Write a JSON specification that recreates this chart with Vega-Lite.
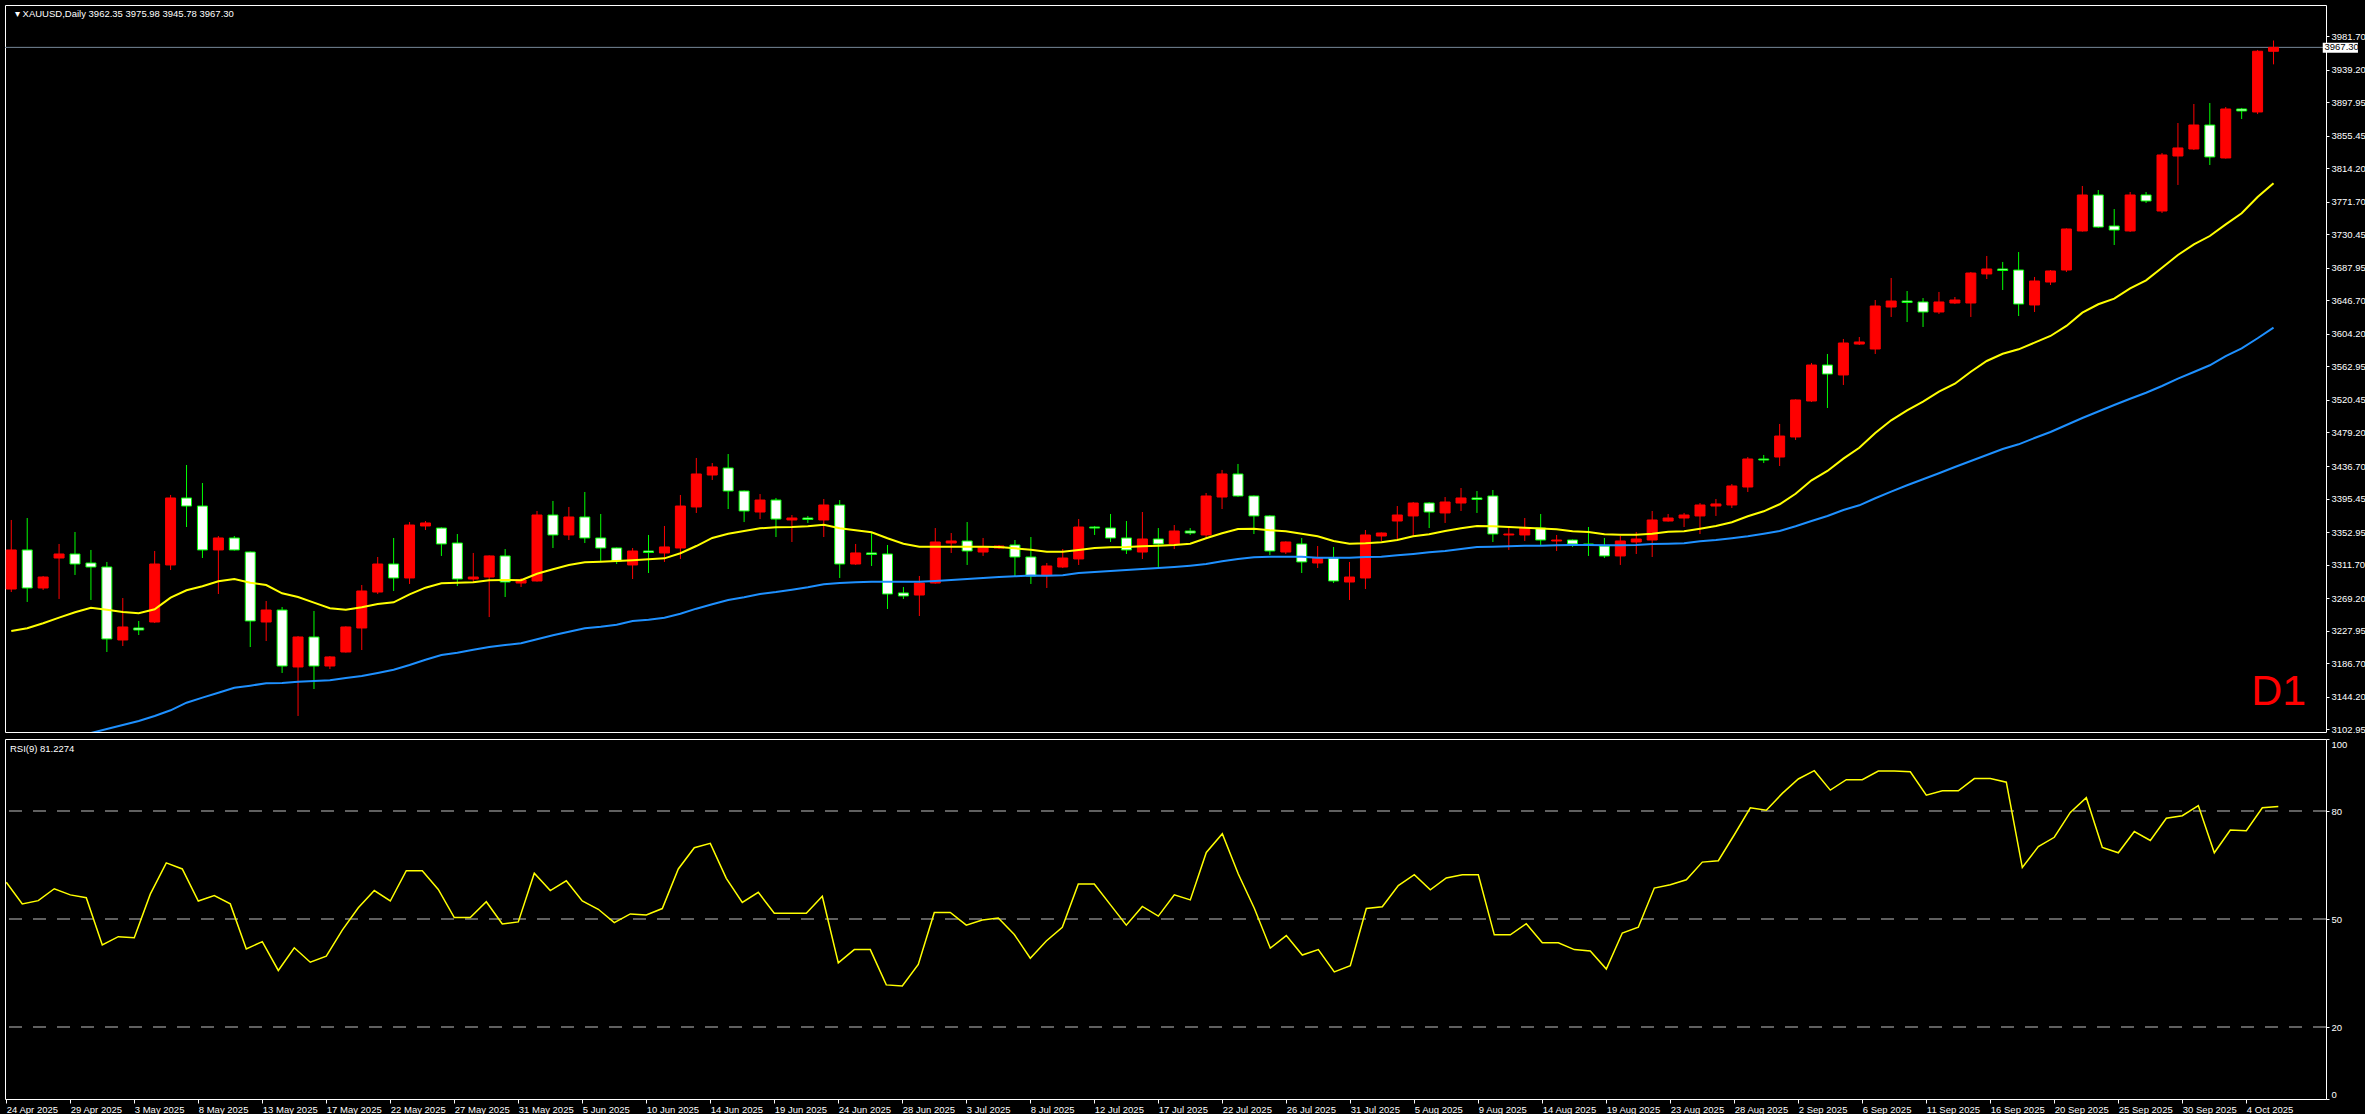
{
"$schema": "https://vega.github.io/schema/vega-lite/v6.json",
"background": "#000000",
"padding": {"left": 4, "top": 4, "right": 0, "bottom": 0},
"spacing": 3,
"config": {
  "view": {"stroke": "#ffffff", "strokeWidth": 1},
  "axis": {"labelColor": "#ffffff", "tickColor": "#ffffff", "domain": false, "grid": false, "labelFont": "Liberation Sans", "labelFontSize": 9.5, "tickSize": 3, "labelPadding": 2},
  "text": {"font": "Liberation Sans"}
},
"datasets": {
"levels": [{"v": 20}, {"v": 50}, {"v": 80}],
"bars": [
{"d":"2025-04-24","i":0,"o":3280.8,"h":3368.3,"l":3277.0,"c":3330.3,"m1":3227.6,"m2":3073.0,"r":60.2},
{"d":"2025-04-25","i":1,"o":3330.3,"h":3370.8,"l":3264.4,"c":3282.1,"m1":3231.0,"m2":3078.0,"r":54.2},
{"d":"2025-04-26","i":2,"o":3282.1,"h":3297.3,"l":3279.6,"c":3296.0,"m1":3237.4,"m2":3083.1,"r":55.1},
{"d":"2025-04-28","i":3,"o":3320.1,"h":3337.9,"l":3268.2,"c":3325.2,"m1":3244.5,"m2":3088.2,"r":58.4},
{"d":"2025-04-29","i":4,"o":3325.2,"h":3353.1,"l":3298.6,"c":3312.5,"m1":3251.3,"m2":3093.3,"r":56.7},
{"d":"2025-04-30","i":5,"o":3313.8,"h":3330.3,"l":3266.9,"c":3308.7,"m1":3257.1,"m2":3098.3,"r":55.9},
{"d":"2025-05-01","i":6,"o":3308.7,"h":3315.1,"l":3201.0,"c":3217.5,"m1":3254.6,"m2":3103.4,"r":42.8},
{"d":"2025-05-02","i":7,"o":3216.2,"h":3269.4,"l":3208.6,"c":3232.7,"m1":3251.7,"m2":3108.5,"r":45.1},
{"d":"2025-05-03","i":8,"o":3231.4,"h":3240.3,"l":3222.5,"c":3228.9,"m1":3250.0,"m2":3113.5,"r":44.8},
{"d":"2025-05-05","i":9,"o":3239.0,"h":3329.0,"l":3237.7,"c":3312.5,"m1":3255.1,"m2":3119.9,"r":56.9},
{"d":"2025-05-06","i":10,"o":3311.3,"h":3400.0,"l":3304.9,"c":3396.2,"m1":3269.8,"m2":3127.1,"r":65.6},
{"d":"2025-05-07","i":11,"o":3396.2,"h":3438.0,"l":3359.4,"c":3386.0,"m1":3279.2,"m2":3136.7,"r":63.9},
{"d":"2025-05-08","i":12,"o":3386.0,"h":3415.2,"l":3320.1,"c":3330.3,"m1":3284.3,"m2":3143.1,"r":55.0},
{"d":"2025-05-09","i":13,"o":3330.3,"h":3348.0,"l":3274.5,"c":3345.5,"m1":3290.6,"m2":3149.4,"r":56.5},
{"d":"2025-05-10","i":14,"o":3345.5,"h":3348.0,"l":3329.5,"c":3330.3,"m1":3293.5,"m2":3155.7,"r":54.2},
{"d":"2025-05-12","i":15,"o":3327.7,"h":3328.5,"l":3207.3,"c":3240.3,"m1":3288.8,"m2":3158.3,"r":41.7},
{"d":"2025-05-13","i":16,"o":3239.0,"h":3265.6,"l":3214.9,"c":3254.2,"m1":3285.9,"m2":3161.3,"r":43.7},
{"d":"2025-05-14","i":17,"o":3254.2,"h":3258.0,"l":3174.4,"c":3183.2,"m1":3275.4,"m2":3161.7,"r":35.7},
{"d":"2025-05-15","i":18,"o":3182.0,"h":3221.3,"l":3119.9,"c":3220.0,"m1":3270.7,"m2":3163.3,"r":42.0},
{"d":"2025-05-16","i":19,"o":3220.0,"h":3253.0,"l":3154.1,"c":3183.2,"m1":3263.5,"m2":3164.2,"r":38.0},
{"d":"2025-05-17","i":20,"o":3183.2,"h":3195.9,"l":3179.4,"c":3194.7,"m1":3256.4,"m2":3165.1,"r":39.7},
{"d":"2025-05-19","i":21,"o":3201.0,"h":3233.5,"l":3200.2,"c":3232.7,"m1":3254.6,"m2":3168.0,"r":46.9},
{"d":"2025-05-20","i":22,"o":3231.4,"h":3285.9,"l":3203.5,"c":3278.3,"m1":3257.6,"m2":3170.6,"r":53.1},
{"d":"2025-05-21","i":23,"o":3277.0,"h":3321.4,"l":3274.5,"c":3312.5,"m1":3261.8,"m2":3174.4,"r":57.9},
{"d":"2025-05-22","i":24,"o":3312.5,"h":3345.5,"l":3278.3,"c":3294.8,"m1":3264.0,"m2":3178.6,"r":55.0},
{"d":"2025-05-23","i":25,"o":3294.8,"h":3365.7,"l":3287.2,"c":3361.9,"m1":3274.1,"m2":3184.5,"r":63.4},
{"d":"2025-05-24","i":26,"o":3360.7,"h":3367.0,"l":3355.6,"c":3364.5,"m1":3282.5,"m2":3191.2,"r":63.4},
{"d":"2025-05-26","i":27,"o":3358.1,"h":3359.0,"l":3322.7,"c":3337.9,"m1":3288.1,"m2":3197.2,"r":58.2},
{"d":"2025-05-27","i":28,"o":3339.1,"h":3350.5,"l":3284.6,"c":3293.5,"m1":3288.8,"m2":3200.1,"r":50.4},
{"d":"2025-05-28","i":29,"o":3293.5,"h":3326.5,"l":3289.7,"c":3296.0,"m1":3289.3,"m2":3203.9,"r":50.4},
{"d":"2025-05-29","i":30,"o":3296.0,"h":3323.5,"l":3245.3,"c":3322.7,"m1":3291.9,"m2":3207.3,"r":54.8},
{"d":"2025-05-30","i":31,"o":3322.7,"h":3331.5,"l":3270.7,"c":3289.7,"m1":3292.2,"m2":3209.9,"r":48.6},
{"d":"2025-05-31","i":32,"o":3288.4,"h":3294.8,"l":3283.4,"c":3292.2,"m1":3292.0,"m2":3212.1,"r":49.2},
{"d":"2025-06-02","i":33,"o":3291.0,"h":3379.7,"l":3290.2,"c":3374.6,"m1":3300.2,"m2":3217.1,"r":62.7},
{"d":"2025-06-03","i":34,"o":3374.6,"h":3392.4,"l":3332.8,"c":3349.3,"m1":3305.8,"m2":3222.2,"r":57.9},
{"d":"2025-06-04","i":35,"o":3349.3,"h":3384.8,"l":3342.9,"c":3372.1,"m1":3311.3,"m2":3226.7,"r":60.6},
{"d":"2025-06-05","i":36,"o":3372.1,"h":3403.8,"l":3339.1,"c":3345.5,"m1":3314.7,"m2":3231.0,"r":55.0},
{"d":"2025-06-06","i":37,"o":3345.5,"h":3375.9,"l":3316.3,"c":3332.8,"m1":3315.4,"m2":3233.0,"r":52.7},
{"d":"2025-06-07","i":38,"o":3332.8,"h":3333.5,"l":3312.5,"c":3316.3,"m1":3316.3,"m2":3235.6,"r":49.0},
{"d":"2025-06-09","i":39,"o":3311.3,"h":3332.8,"l":3293.5,"c":3329.0,"m1":3317.2,"m2":3240.3,"r":51.4},
{"d":"2025-06-10","i":40,"o":3329.0,"h":3349.3,"l":3301.1,"c":3327.1,"m1":3318.5,"m2":3241.9,"r":51.1},
{"d":"2025-06-11","i":41,"o":3326.5,"h":3360.7,"l":3315.1,"c":3334.1,"m1":3319.7,"m2":3244.5,"r":52.9},
{"d":"2025-06-12","i":42,"o":3332.8,"h":3400.0,"l":3318.9,"c":3386.0,"m1":3326.1,"m2":3249.5,"r":63.9},
{"d":"2025-06-13","i":43,"o":3384.8,"h":3446.9,"l":3377.2,"c":3426.6,"m1":3335.3,"m2":3255.9,"r":69.8},
{"d":"2025-06-14","i":44,"o":3425.3,"h":3440.5,"l":3419.0,"c":3435.5,"m1":3345.5,"m2":3261.4,"r":71.0},
{"d":"2025-06-16","i":45,"o":3434.2,"h":3451.9,"l":3382.2,"c":3405.0,"m1":3350.9,"m2":3266.9,"r":61.3},
{"d":"2025-06-17","i":46,"o":3405.0,"h":3405.8,"l":3365.7,"c":3379.7,"m1":3354.3,"m2":3270.3,"r":54.6},
{"d":"2025-06-18","i":47,"o":3378.4,"h":3401.2,"l":3369.5,"c":3393.6,"m1":3357.8,"m2":3274.5,"r":57.4},
{"d":"2025-06-19","i":48,"o":3393.6,"h":3396.2,"l":3346.7,"c":3369.5,"m1":3359.0,"m2":3277.0,"r":51.6},
{"d":"2025-06-20","i":49,"o":3368.3,"h":3374.6,"l":3340.4,"c":3370.8,"m1":3359.4,"m2":3280.0,"r":51.6},
{"d":"2025-06-21","i":50,"o":3370.8,"h":3373.4,"l":3364.5,"c":3368.9,"m1":3360.3,"m2":3283.0,"r":51.6},
{"d":"2025-06-23","i":51,"o":3368.3,"h":3394.9,"l":3346.7,"c":3387.3,"m1":3362.3,"m2":3286.8,"r":56.3},
{"d":"2025-06-24","i":52,"o":3387.3,"h":3393.6,"l":3294.8,"c":3312.5,"m1":3357.8,"m2":3288.4,"r":37.8},
{"d":"2025-06-25","i":53,"o":3312.5,"h":3337.9,"l":3311.3,"c":3326.5,"m1":3355.2,"m2":3289.3,"r":41.5},
{"d":"2025-06-26","i":54,"o":3326.5,"h":3351.8,"l":3310.0,"c":3324.6,"m1":3352.7,"m2":3290.1,"r":41.5},
{"d":"2025-06-27","i":55,"o":3325.2,"h":3336.6,"l":3255.5,"c":3274.5,"m1":3345.1,"m2":3290.1,"r":31.7},
{"d":"2025-06-28","i":56,"o":3275.8,"h":3283.4,"l":3268.2,"c":3272.0,"m1":3338.2,"m2":3290.1,"r":31.4},
{"d":"2025-06-30","i":57,"o":3273.2,"h":3297.3,"l":3246.6,"c":3288.4,"m1":3334.4,"m2":3290.1,"r":37.4},
{"d":"2025-07-01","i":58,"o":3288.4,"h":3358.1,"l":3287.6,"c":3340.4,"m1":3334.4,"m2":3291.0,"r":51.8},
{"d":"2025-07-02","i":59,"o":3339.1,"h":3351.8,"l":3326.5,"c":3341.7,"m1":3334.4,"m2":3292.2,"r":51.8},
{"d":"2025-07-03","i":60,"o":3341.7,"h":3365.7,"l":3311.3,"c":3329.0,"m1":3334.4,"m2":3293.5,"r":48.3},
{"d":"2025-07-04","i":61,"o":3327.7,"h":3345.5,"l":3322.7,"c":3334.1,"m1":3334.4,"m2":3294.8,"r":49.7},
{"d":"2025-07-05","i":62,"o":3332.8,"h":3336.6,"l":3331.5,"c":3335.3,"m1":3334.1,"m2":3296.0,"r":50.3},
{"d":"2025-07-07","i":63,"o":3336.6,"h":3342.9,"l":3297.3,"c":3321.4,"m1":3332.4,"m2":3296.9,"r":45.7},
{"d":"2025-07-08","i":64,"o":3321.4,"h":3346.7,"l":3287.2,"c":3297.3,"m1":3330.5,"m2":3297.9,"r":39.1},
{"d":"2025-07-09","i":65,"o":3298.6,"h":3313.8,"l":3282.1,"c":3310.0,"m1":3328.1,"m2":3297.7,"r":43.9},
{"d":"2025-07-10","i":66,"o":3308.7,"h":3331.5,"l":3307.4,"c":3320.1,"m1":3328.1,"m2":3298.2,"r":47.7},
{"d":"2025-07-11","i":67,"o":3318.9,"h":3369.5,"l":3311.3,"c":3359.4,"m1":3330.3,"m2":3301.1,"r":59.7},
{"d":"2025-07-12","i":68,"o":3359.4,"h":3360.7,"l":3349.3,"c":3358.1,"m1":3332.8,"m2":3302.4,"r":59.7},
{"d":"2025-07-14","i":69,"o":3358.1,"h":3375.9,"l":3340.4,"c":3345.5,"m1":3333.7,"m2":3303.6,"r":54.0},
{"d":"2025-07-15","i":70,"o":3345.5,"h":3367.0,"l":3325.2,"c":3330.3,"m1":3334.1,"m2":3304.9,"r":48.3},
{"d":"2025-07-16","i":71,"o":3327.7,"h":3378.4,"l":3318.9,"c":3344.2,"m1":3335.0,"m2":3306.2,"r":53.5},
{"d":"2025-07-17","i":72,"o":3344.2,"h":3358.1,"l":3307.4,"c":3337.9,"m1":3335.7,"m2":3307.4,"r":50.8},
{"d":"2025-07-18","i":73,"o":3337.9,"h":3361.9,"l":3331.5,"c":3354.3,"m1":3336.6,"m2":3308.7,"r":56.7},
{"d":"2025-07-19","i":74,"o":3354.3,"h":3358.1,"l":3349.3,"c":3351.8,"m1":3338.2,"m2":3310.4,"r":55.3},
{"d":"2025-07-21","i":75,"o":3349.3,"h":3402.5,"l":3345.5,"c":3398.7,"m1":3345.1,"m2":3312.5,"r":68.5},
{"d":"2025-07-22","i":76,"o":3397.4,"h":3431.7,"l":3382.2,"c":3426.6,"m1":3351.4,"m2":3315.9,"r":73.7},
{"d":"2025-07-23","i":77,"o":3426.6,"h":3439.3,"l":3397.4,"c":3398.7,"m1":3356.9,"m2":3318.9,"r":62.5},
{"d":"2025-07-24","i":78,"o":3398.7,"h":3399.5,"l":3350.5,"c":3373.4,"m1":3357.3,"m2":3321.0,"r":53.0},
{"d":"2025-07-25","i":79,"o":3373.4,"h":3374.6,"l":3323.9,"c":3329.0,"m1":3355.2,"m2":3321.8,"r":41.9},
{"d":"2025-07-26","i":80,"o":3327.7,"h":3341.2,"l":3325.2,"c":3340.4,"m1":3354.0,"m2":3321.8,"r":45.4},
{"d":"2025-07-28","i":81,"o":3337.9,"h":3345.5,"l":3301.1,"c":3315.1,"m1":3350.9,"m2":3321.8,"r":40.0},
{"d":"2025-07-29","i":82,"o":3313.8,"h":3335.3,"l":3307.4,"c":3320.1,"m1":3347.6,"m2":3320.5,"r":41.5},
{"d":"2025-07-30","i":83,"o":3320.1,"h":3334.1,"l":3288.4,"c":3291.0,"m1":3341.7,"m2":3320.5,"r":35.3},
{"d":"2025-07-31","i":84,"o":3289.7,"h":3315.1,"l":3266.9,"c":3296.0,"m1":3338.2,"m2":3320.5,"r":37.0},
{"d":"2025-08-01","i":85,"o":3294.8,"h":3355.6,"l":3280.8,"c":3349.3,"m1":3338.8,"m2":3321.4,"r":52.9},
{"d":"2025-08-02","i":86,"o":3348.0,"h":3352.5,"l":3341.7,"c":3351.8,"m1":3340.0,"m2":3321.8,"r":53.4},
{"d":"2025-08-04","i":87,"o":3367.0,"h":3386.0,"l":3344.2,"c":3374.6,"m1":3342.9,"m2":3323.5,"r":59.3},
{"d":"2025-08-05","i":88,"o":3373.4,"h":3391.1,"l":3348.0,"c":3389.8,"m1":3347.6,"m2":3325.2,"r":62.3},
{"d":"2025-08-06","i":89,"o":3389.8,"h":3391.1,"l":3358.1,"c":3378.4,"m1":3350.2,"m2":3327.3,"r":58.1},
{"d":"2025-08-07","i":90,"o":3377.2,"h":3397.4,"l":3364.5,"c":3391.1,"m1":3354.3,"m2":3329.0,"r":61.4},
{"d":"2025-08-08","i":91,"o":3389.8,"h":3408.8,"l":3379.7,"c":3396.2,"m1":3357.8,"m2":3331.5,"r":62.3},
{"d":"2025-08-09","i":92,"o":3396.2,"h":3405.0,"l":3377.2,"c":3394.3,"m1":3360.7,"m2":3334.1,"r":62.3},
{"d":"2025-08-11","i":93,"o":3398.7,"h":3406.3,"l":3340.4,"c":3350.5,"m1":3360.3,"m2":3334.4,"r":45.6},
{"d":"2025-08-12","i":94,"o":3349.3,"h":3358.1,"l":3330.3,"c":3350.5,"m1":3359.4,"m2":3334.9,"r":45.6},
{"d":"2025-08-13","i":95,"o":3349.3,"h":3370.8,"l":3341.7,"c":3358.1,"m1":3358.5,"m2":3335.7,"r":48.7},
{"d":"2025-08-14","i":96,"o":3358.1,"h":3375.9,"l":3336.6,"c":3342.9,"m1":3357.5,"m2":3335.7,"r":43.4},
{"d":"2025-08-15","i":97,"o":3341.7,"h":3349.3,"l":3329.0,"c":3342.9,"m1":3356.5,"m2":3336.2,"r":43.4},
{"d":"2025-08-16","i":98,"o":3342.9,"h":3343.6,"l":3334.1,"c":3337.9,"m1":3354.0,"m2":3336.6,"r":41.5},
{"d":"2025-08-18","i":99,"o":3337.9,"h":3359.4,"l":3322.7,"c":3336.6,"m1":3353.1,"m2":3336.6,"r":41.1},
{"d":"2025-08-19","i":100,"o":3335.3,"h":3345.5,"l":3320.1,"c":3322.7,"m1":3350.2,"m2":3336.2,"r":36.1},
{"d":"2025-08-20","i":101,"o":3322.7,"h":3348.0,"l":3311.3,"c":3341.7,"m1":3349.6,"m2":3336.2,"r":46.1},
{"d":"2025-08-21","i":102,"o":3340.4,"h":3353.1,"l":3325.2,"c":3344.2,"m1":3349.6,"m2":3336.6,"r":47.7},
{"d":"2025-08-22","i":103,"o":3342.9,"h":3379.7,"l":3321.4,"c":3368.3,"m1":3350.9,"m2":3337.9,"r":58.6},
{"d":"2025-08-23","i":104,"o":3367.0,"h":3375.9,"l":3366.2,"c":3370.8,"m1":3353.5,"m2":3338.2,"r":59.5},
{"d":"2025-08-25","i":105,"o":3370.8,"h":3377.2,"l":3359.4,"c":3374.6,"m1":3354.0,"m2":3338.8,"r":60.9},
{"d":"2025-08-26","i":106,"o":3373.4,"h":3389.8,"l":3350.5,"c":3387.3,"m1":3357.3,"m2":3341.3,"r":65.8},
{"d":"2025-08-27","i":107,"o":3386.0,"h":3394.9,"l":3373.4,"c":3388.6,"m1":3360.7,"m2":3342.9,"r":66.2},
{"d":"2025-08-28","i":108,"o":3387.3,"h":3413.9,"l":3383.5,"c":3411.4,"m1":3365.4,"m2":3345.1,"r":73.4},
{"d":"2025-08-29","i":109,"o":3410.1,"h":3448.1,"l":3403.8,"c":3445.6,"m1":3373.0,"m2":3347.6,"r":80.9},
{"d":"2025-08-30","i":110,"o":3445.6,"h":3450.7,"l":3440.5,"c":3444.3,"m1":3379.3,"m2":3350.9,"r":80.2},
{"d":"2025-09-01","i":111,"o":3448.1,"h":3490.0,"l":3436.7,"c":3474.7,"m1":3388.2,"m2":3354.3,"r":84.9},
{"d":"2025-09-02","i":112,"o":3473.5,"h":3521.2,"l":3469.7,"c":3520.4,"m1":3401.6,"m2":3360.3,"r":88.9},
{"d":"2025-09-03","i":113,"o":3519.1,"h":3567.3,"l":3517.8,"c":3564.7,"m1":3418.6,"m2":3367.0,"r":91.2},
{"d":"2025-09-04","i":114,"o":3564.7,"h":3578.7,"l":3510.2,"c":3553.3,"m1":3430.4,"m2":3373.4,"r":85.8},
{"d":"2025-09-05","i":115,"o":3552.1,"h":3597.7,"l":3539.4,"c":3592.6,"m1":3446.0,"m2":3381.0,"r":88.7},
{"d":"2025-09-06","i":116,"o":3591.3,"h":3600.2,"l":3590.1,"c":3593.9,"m1":3459.9,"m2":3386.9,"r":88.7},
{"d":"2025-09-08","i":117,"o":3585.0,"h":3647.1,"l":3578.7,"c":3639.5,"m1":3478.5,"m2":3395.8,"r":91.1},
{"d":"2025-09-09","i":118,"o":3638.2,"h":3675.0,"l":3625.6,"c":3645.8,"m1":3494.6,"m2":3404.2,"r":91.1},
{"d":"2025-09-10","i":119,"o":3645.8,"h":3658.5,"l":3619.2,"c":3643.9,"m1":3507.3,"m2":3412.3,"r":90.9},
{"d":"2025-09-11","i":120,"o":3644.6,"h":3649.6,"l":3612.9,"c":3631.9,"m1":3518.2,"m2":3419.9,"r":84.4},
{"d":"2025-09-12","i":121,"o":3631.9,"h":3657.3,"l":3629.4,"c":3644.6,"m1":3530.9,"m2":3427.5,"r":85.6},
{"d":"2025-09-13","i":122,"o":3643.3,"h":3650.9,"l":3642.0,"c":3647.1,"m1":3541.0,"m2":3435.5,"r":85.6},
{"d":"2025-09-15","i":123,"o":3643.3,"h":3682.6,"l":3625.6,"c":3681.3,"m1":3556.2,"m2":3443.1,"r":89.0},
{"d":"2025-09-16","i":124,"o":3680.1,"h":3702.9,"l":3673.7,"c":3686.4,"m1":3569.8,"m2":3450.7,"r":89.0},
{"d":"2025-09-17","i":125,"o":3686.4,"h":3695.3,"l":3659.8,"c":3684.5,"m1":3579.0,"m2":3458.3,"r":88.0},
{"d":"2025-09-18","i":126,"o":3685.1,"h":3707.9,"l":3626.8,"c":3642.0,"m1":3584.6,"m2":3464.2,"r":64.3},
{"d":"2025-09-19","i":127,"o":3640.8,"h":3676.3,"l":3631.9,"c":3671.2,"m1":3593.0,"m2":3472.2,"r":70.1},
{"d":"2025-09-20","i":128,"o":3669.9,"h":3685.1,"l":3666.1,"c":3683.9,"m1":3601.5,"m2":3479.8,"r":72.7},
{"d":"2025-09-22","i":129,"o":3685.1,"h":3737.9,"l":3682.6,"c":3737.1,"m1":3614.2,"m2":3488.7,"r":79.6},
{"d":"2025-09-23","i":130,"o":3734.6,"h":3791.6,"l":3733.8,"c":3780.2,"m1":3631.0,"m2":3497.6,"r":83.7},
{"d":"2025-09-24","i":131,"o":3780.2,"h":3786.5,"l":3738.4,"c":3739.6,"m1":3641.7,"m2":3505.8,"r":69.9},
{"d":"2025-09-25","i":132,"o":3740.9,"h":3762.4,"l":3716.8,"c":3735.8,"m1":3648.8,"m2":3514.0,"r":68.4},
{"d":"2025-09-26","i":133,"o":3734.6,"h":3784.0,"l":3733.3,"c":3780.2,"m1":3661.9,"m2":3522.0,"r":74.3},
{"d":"2025-09-27","i":134,"o":3780.2,"h":3784.0,"l":3770.1,"c":3772.6,"m1":3672.1,"m2":3529.6,"r":71.8},
{"d":"2025-09-29","i":135,"o":3759.9,"h":3833.4,"l":3757.4,"c":3830.9,"m1":3688.0,"m2":3538.1,"r":78.0},
{"d":"2025-09-30","i":136,"o":3829.6,"h":3871.4,"l":3792.9,"c":3839.8,"m1":3704.1,"m2":3547.4,"r":78.7},
{"d":"2025-10-01","i":137,"o":3838.5,"h":3895.5,"l":3837.2,"c":3868.9,"m1":3717.7,"m2":3555.9,"r":81.5},
{"d":"2025-10-02","i":138,"o":3868.9,"h":3896.8,"l":3818.2,"c":3828.4,"m1":3728.2,"m2":3564.4,"r":68.4},
{"d":"2025-10-03","i":139,"o":3827.1,"h":3891.7,"l":3826.3,"c":3889.2,"m1":3743.0,"m2":3576.1,"r":74.7},
{"d":"2025-10-04","i":140,"o":3889.2,"h":3890.5,"l":3876.5,"c":3886.7,"m1":3757.0,"m2":3585.9,"r":74.5},
{"d":"2025-10-06","i":141,"o":3885.4,"h":3964.0,"l":3882.8,"c":3962.4,"m1":3777.7,"m2":3598.6,"r":80.9},
{"d":"2025-10-07","i":142,"o":3962.35,"h":3975.98,"l":3945.78,"c":3967.30,"m1":3795.0,"m2":3612.0,"r":81.2274}
]
},
"vconcat": [
{
  "width": 2321,
  "height": 727,
  "layer": [
    {
      "data": {"values": [{"bid": 3967.30}]},
      "mark": {"type": "rule", "color": "#778899", "strokeWidth": 1},
      "encoding": {"y": {"field": "bid", "type": "quantitative", "scale": {"domain": [3099.59, 4020.99], "nice": false, "zero": false},
        "axis": {"orient": "right", "title": null, "format": ".2f", "values": [3102.95, 3144.2, 3186.7, 3227.95, 3269.2, 3311.7, 3352.95, 3395.45, 3436.7, 3479.2, 3520.45, 3562.95, 3604.2, 3646.7, 3687.95, 3730.45, 3771.7, 3814.2, 3855.45, 3897.95, 3939.2, 3981.7]}}}
    },
    {
      "data": {"name": "bars"},
      "mark": {"type": "rule", "strokeWidth": 1, "clip": true},
      "encoding": {
        "x": {"field": "i", "type": "quantitative", "scale": {"domain": [-0.08, 144.98], "nice": false, "zero": false}, "axis": null},
        "y": {"field": "l", "type": "quantitative", "scale": {"domain": [3099.59, 4020.99], "nice": false, "zero": false},
              "axis": {"orient": "right", "title": null, "format": ".2f", "values": [3102.95, 3144.2, 3186.7, 3227.95, 3269.2, 3311.7, 3352.95, 3395.45, 3436.7, 3479.2, 3520.45, 3562.95, 3604.2, 3646.7, 3687.95, 3730.45, 3771.7, 3814.2, 3855.45, 3897.95, 3939.2, 3981.7]}},
        "y2": {"field": "h"},
        "color": {"condition": {"test": "datum.c >= datum.o", "value": "#ff0000"}, "value": "#00ff00"}
      }
    },
    {
      "data": {"name": "bars"},
      "mark": {"type": "bar", "strokeWidth": 1, "clip": true},
      "encoding": {
        "x": {"field": "i", "type": "quantitative", "scale": {"domain": [-0.08, 144.98], "nice": false, "zero": false}, "axis": null},
        "y": {"field": "o", "type": "quantitative", "scale": {"domain": [3099.59, 4020.99], "nice": false, "zero": false},
              "axis": {"orient": "right", "title": null, "format": ".2f", "values": [3102.95, 3144.2, 3186.7, 3227.95, 3269.2, 3311.7, 3352.95, 3395.45, 3436.7, 3479.2, 3520.45, 3562.95, 3604.2, 3646.7, 3687.95, 3730.45, 3771.7, 3814.2, 3855.45, 3897.95, 3939.2, 3981.7]}},
        "y2": {"field": "c"},
        "size": {"value": 10},
        "fill": {"condition": {"test": "datum.c >= datum.o", "value": "#ff0000"}, "value": "#ffffff"},
        "stroke": {"condition": {"test": "datum.c >= datum.o", "value": "#ff0000"}, "value": "#00ff00"}
      }
    },
    {
      "data": {"name": "bars"},
      "mark": {"type": "line", "color": "#1e90ff", "strokeWidth": 2, "clip": true},
      "encoding": {
        "x": {"field": "i", "type": "quantitative", "scale": {"domain": [-0.08, 144.98], "nice": false, "zero": false}, "axis": null},
        "y": {"field": "m2", "type": "quantitative", "scale": {"domain": [3099.59, 4020.99], "nice": false, "zero": false},
              "axis": {"orient": "right", "title": null, "format": ".2f", "values": [3102.95, 3144.2, 3186.7, 3227.95, 3269.2, 3311.7, 3352.95, 3395.45, 3436.7, 3479.2, 3520.45, 3562.95, 3604.2, 3646.7, 3687.95, 3730.45, 3771.7, 3814.2, 3855.45, 3897.95, 3939.2, 3981.7]}}
      }
    },
    {
      "data": {"name": "bars"},
      "mark": {"type": "line", "color": "#ffff00", "strokeWidth": 2, "clip": true},
      "encoding": {
        "x": {"field": "i", "type": "quantitative", "scale": {"domain": [-0.08, 144.98], "nice": false, "zero": false}, "axis": null},
        "y": {"field": "m1", "type": "quantitative", "scale": {"domain": [3099.59, 4020.99], "nice": false, "zero": false},
              "axis": {"orient": "right", "title": null, "format": ".2f", "values": [3102.95, 3144.2, 3186.7, 3227.95, 3269.2, 3311.7, 3352.95, 3395.45, 3436.7, 3479.2, 3520.45, 3562.95, 3604.2, 3646.7, 3687.95, 3730.45, 3771.7, 3814.2, 3855.45, 3897.95, 3939.2, 3981.7]}}
      }
    },
    {
      "data": {"values": [{"t": "▾ XAUUSD,Daily  3962.35 3975.98 3945.78 3967.30"}]},
      "mark": {"type": "text", "color": "#ffffff", "fontSize": 9.5, "align": "left", "baseline": "alphabetic", "font": "Liberation Sans"},
      "encoding": {
        "text": {"field": "t"},
        "x": {"datum": 0.23, "type": "quantitative", "scale": {"domain": [-0.08, 144.98], "nice": false, "zero": false}, "axis": null},
        "y": {"datum": 4005.8, "type": "quantitative", "scale": {"domain": [3099.59, 4020.99], "nice": false, "zero": false},
              "axis": {"orient": "right", "title": null, "format": ".2f", "values": [3102.95, 3144.2, 3186.7, 3227.95, 3269.2, 3311.7, 3352.95, 3395.45, 3436.7, 3479.2, 3520.45, 3562.95, 3604.2, 3646.7, 3687.95, 3730.45, 3771.7, 3814.2, 3855.45, 3897.95, 3939.2, 3981.7]}}
      }
    },
    {
      "data": {"values": [{"tf": "D1"}]},
      "mark": {"type": "text", "color": "#ff0000", "fontSize": 43, "align": "right", "baseline": "alphabetic", "font": "Liberation Sans"},
      "encoding": {
        "text": {"field": "tf"},
        "x": {"datum": 144.05, "type": "quantitative", "scale": {"domain": [-0.08, 144.98], "nice": false, "zero": false}, "axis": null},
        "y": {"datum": 3133.8, "type": "quantitative", "scale": {"domain": [3099.59, 4020.99], "nice": false, "zero": false},
              "axis": {"orient": "right", "title": null, "format": ".2f", "values": [3102.95, 3144.2, 3186.7, 3227.95, 3269.2, 3311.7, 3352.95, 3395.45, 3436.7, 3479.2, 3520.45, 3562.95, 3604.2, 3646.7, 3687.95, 3730.45, 3771.7, 3814.2, 3855.45, 3897.95, 3939.2, 3981.7]}}
      }
    },
    {
      "data": {"values": [{"bid": 3967.30}]},
      "mark": {"type": "rect", "color": "#ffffff"},
      "encoding": {
        "x": {"datum": 145.09, "type": "quantitative", "scale": {"domain": [-0.08, 144.98], "nice": false, "zero": false}, "axis": null},
        "x2": {"datum": 147.3},
        "y": {"datum": 3973.2, "type": "quantitative", "scale": {"domain": [3099.59, 4020.99], "nice": false, "zero": false},
              "axis": {"orient": "right", "title": null, "format": ".2f", "values": [3102.95, 3144.2, 3186.7, 3227.95, 3269.2, 3311.7, 3352.95, 3395.45, 3436.7, 3479.2, 3520.45, 3562.95, 3604.2, 3646.7, 3687.95, 3730.45, 3771.7, 3814.2, 3855.45, 3897.95, 3939.2, 3981.7]}},
        "y2": {"datum": 3960.5}
      }
    },
    {
      "data": {"values": [{"bid": 3967.30}]},
      "mark": {"type": "text", "color": "#000000", "fontSize": 9.5, "align": "left", "baseline": "middle", "font": "Liberation Sans"},
      "encoding": {
        "text": {"field": "bid", "type": "quantitative", "format": ".2f"},
        "x": {"datum": 145.2, "type": "quantitative", "scale": {"domain": [-0.08, 144.98], "nice": false, "zero": false}, "axis": null},
        "y": {"field": "bid", "type": "quantitative", "scale": {"domain": [3099.59, 4020.99], "nice": false, "zero": false},
              "axis": {"orient": "right", "title": null, "format": ".2f", "values": [3102.95, 3144.2, 3186.7, 3227.95, 3269.2, 3311.7, 3352.95, 3395.45, 3436.7, 3479.2, 3520.45, 3562.95, 3604.2, 3646.7, 3687.95, 3730.45, 3771.7, 3814.2, 3855.45, 3897.95, 3939.2, 3981.7]}}
      }
    }
  ]
},
{
  "width": 2321,
  "height": 360,
  "layer": [
    {
      "data": {"name": "levels"},
      "mark": {"type": "rule", "color": "#c0c0c0", "strokeWidth": 1, "strokeDash": [13, 11]},
      "encoding": {
        "y": {"field": "v", "type": "quantitative", "scale": {"domain": [0, 100], "nice": false, "zero": false},
              "axis": {"orient": "right", "title": null, "values": [0, 20, 50, 80, 100], "labelFlush": true, "labelFlushOffset": 0}}
      }
    },
    {
      "data": {"name": "bars"},
      "mark": {"type": "line", "color": "#ffff00", "strokeWidth": 1.5, "clip": true},
      "encoding": {
        "x": {"field": "i", "type": "quantitative", "scale": {"domain": [-0.08, 144.98], "nice": false, "zero": false},
              "axis": {"orient": "bottom", "title": null, "values": [0,4,8,12,16,20,24,28,32,36,40,44,48,52,56,60,64,68,72,76,80,84,88,92,96,100,104,108,112,116,120,124,128,132,136,140],
                       "labelExpr": "['24 Apr 2025','29 Apr 2025','3 May 2025','8 May 2025','13 May 2025','17 May 2025','22 May 2025','27 May 2025','31 May 2025','5 Jun 2025','10 Jun 2025','14 Jun 2025','19 Jun 2025','24 Jun 2025','28 Jun 2025','3 Jul 2025','8 Jul 2025','12 Jul 2025','17 Jul 2025','22 Jul 2025','26 Jul 2025','31 Jul 2025','5 Aug 2025','9 Aug 2025','14 Aug 2025','19 Aug 2025','23 Aug 2025','28 Aug 2025','2 Sep 2025','6 Sep 2025','11 Sep 2025','16 Sep 2025','20 Sep 2025','25 Sep 2025','30 Sep 2025','4 Oct 2025'][round(datum.value / 4)]",
                       "labelAlign": "left", "labelBaseline": "top", "tickSize": 4, "labelPadding": 1, "labelOverlap": false, "labelFlush": false, "labelBound": false}},
        "y": {"field": "r", "type": "quantitative", "scale": {"domain": [0, 100], "nice": false, "zero": false},
              "axis": {"orient": "right", "title": null, "values": [0, 20, 50, 80, 100], "labelFlush": true, "labelFlushOffset": 0}}
      }
    },
    {
      "data": {"values": [{"t": "RSI(9) 81.2274"}]},
      "mark": {"type": "text", "color": "#ffffff", "fontSize": 9.5, "align": "left", "baseline": "alphabetic", "font": "Liberation Sans"},
      "encoding": {
        "text": {"field": "t"},
        "x": {"datum": 0.23, "type": "quantitative", "scale": {"domain": [-0.08, 144.98], "nice": false, "zero": false},
              "axis": {"orient": "bottom", "title": null, "values": [0,4,8,12,16,20,24,28,32,36,40,44,48,52,56,60,64,68,72,76,80,84,88,92,96,100,104,108,112,116,120,124,128,132,136,140],
                       "labelExpr": "['24 Apr 2025','29 Apr 2025','3 May 2025','8 May 2025','13 May 2025','17 May 2025','22 May 2025','27 May 2025','31 May 2025','5 Jun 2025','10 Jun 2025','14 Jun 2025','19 Jun 2025','24 Jun 2025','28 Jun 2025','3 Jul 2025','8 Jul 2025','12 Jul 2025','17 Jul 2025','22 Jul 2025','26 Jul 2025','31 Jul 2025','5 Aug 2025','9 Aug 2025','14 Aug 2025','19 Aug 2025','23 Aug 2025','28 Aug 2025','2 Sep 2025','6 Sep 2025','11 Sep 2025','16 Sep 2025','20 Sep 2025','25 Sep 2025','30 Sep 2025','4 Oct 2025'][round(datum.value / 4)]",
                       "labelAlign": "left", "labelBaseline": "top", "tickSize": 4, "labelPadding": 1, "labelOverlap": false, "labelFlush": false, "labelBound": false}},
        "y": {"datum": 96.5, "type": "quantitative", "scale": {"domain": [0, 100], "nice": false, "zero": false},
              "axis": {"orient": "right", "title": null, "values": [0, 20, 50, 80, 100], "labelFlush": true, "labelFlushOffset": 0}}
      }
    }
  ]
}
]
}
